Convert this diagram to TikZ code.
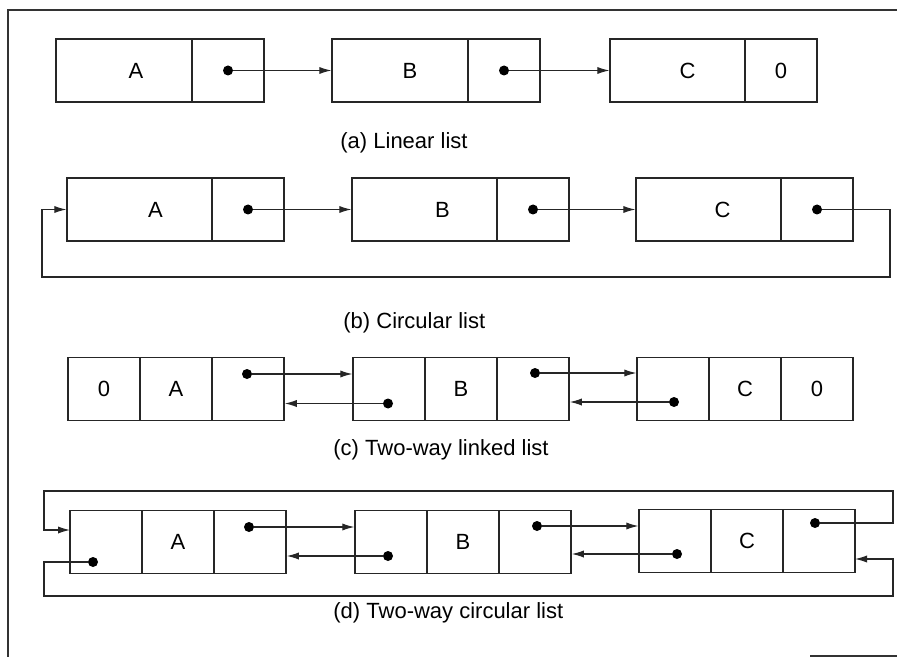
\documentclass[tikz,border=0pt]{standalone}
\usepackage{fontspec}
\setmainfont{Liberation Sans}
\usetikzlibrary{arrows.meta}

\tikzset{
  cell/.style={draw=black!85, line width=0.7pt, minimum height=31.5pt, inner sep=0pt,
               font=\fontsize{11}{13}\selectfont},
  wide/.style={cell, minimum width=#1},
  sq/.style={cell, minimum width=36pt},
  ptrbox/.style={sq, line width=0.85pt},
  txt/.style={font=\fontsize{11}{13}\selectfont, inner sep=0pt},
  caption/.style={txt, anchor=west},
  dot/.style={circle, fill=black, inner sep=0pt, minimum size=5pt},
  ptr/.style={draw=black!85, line width=0.55pt, -{Latex[length=6pt,width=3.6pt]}},
  frame/.style={draw=black!80, line width=0.6pt}
}

\begin{document}
\begin{tikzpicture}[x=0.5pt, y=-0.5pt]
\useasboundingbox (0,0) rectangle (897,657);

% outer frame
\draw[frame] (897,10) -- (8,10) -- (8,657);
\draw[frame] (810,656) -- (897,656);

% ---------- (a) linear list ----------
\node[wide=68pt, label={[txt,xshift=6pt]center:A}] (aA) at (124,70.5) {};
\node[ptrbox] (aAp) at (228,70.5) {};
\node[wide=68pt, label={[txt,xshift=5pt]center:B}] (aB) at (400,70.5) {};
\node[ptrbox] (aBp) at (504,70.5) {};
\node[wide=67.5pt, label={[txt,xshift=5pt]center:C}] (aC) at (677.5,70.5) {};
\node[sq] (aC0) at (781,70.5) {0};
\node[dot] (aAd) at (aAp.center) {};
\node[dot] (aBd) at (aBp.center) {};
\draw[ptr] (aAd) -- (aAd -| aB.west);
\draw[ptr] (aBd) -- (aBd -| aC.west);
\node[caption] (capa) at (340,143) {(a) Linear list};

% ---------- (b) circular list ----------
\node[wide=72.5pt, label={[txt,xshift=8pt]center:A}] (bA) at (139.5,209.5) {};
\node[ptrbox] (bAp) at (248,209.5) {};
\node[wide=72.5pt, label={[txt,xshift=9pt]center:B}] (bB) at (424.5,209.5) {};
\node[ptrbox] (bBp) at (533,209.5) {};
\node[wide=72.5pt, label={[txt,xshift=7pt]center:C}] (bC) at (708.5,209.5) {};
\node[ptrbox] (bCp) at (817,209.5) {};
\node[dot] (bAd) at (bAp.center) {};
\node[dot] (bBd) at (bBp.center) {};
\node[dot] (bCd) at (bCp.center) {};
\draw[ptr] (bAd) -- (bAd -| bB.west);
\draw[ptr] (bBd) -- (bBd -| bC.west);
\coordinate (bR) at (890,277);
\coordinate (bL) at (42,277);
\draw[ptr] (bCd) -- (bCd -| bR) -- (bR) -- (bL) -- (bL |- bA.west) -- (bA.west);
\node[caption] (capb) at (343,323) {(b) Circular list};

% ---------- (c) two-way linked list ----------
\node[sq] (cA1) at (104,389) {0};
\node[sq] (cA2) at (176,389) {A};
\node[ptrbox] (cA3) at (248,389) {};
\node[sq] (cB1) at (389,389) {};
\node[sq] (cB2) at (461,389) {B};
\node[ptrbox] (cB3) at (533,389) {};
\node[sq] (cC1) at (673,389) {};
\node[sq] (cC2) at (745,389) {C};
\node[sq] (cC3) at (817,389) {0};
\node[dot] (cAn) at (247,374) {};
\node[dot] (cBp) at (388,403.5) {};
\node[dot] (cBn) at (535,373) {};
\node[dot] (cCp) at (674,402) {};
\draw[ptr] (cAn) -- (cAn -| cB1.west);
\draw[ptr] (cBp) -- (cBp -| cA3.east);
\draw[ptr] (cBn) -- (cBn -| cC1.west);
\draw[ptr] (cCp) -- (cCp -| cB3.east);
\node[caption] (capc) at (333,450) {(c) Two-way linked list};

% ---------- (d) two-way circular list ----------
\node[sq] (dA1) at (106,542) {};
\node[sq] (dA2) at (178,542) {A};
\node[ptrbox] (dA3) at (250,542) {};
\node[sq] (dB1) at (391,542) {};
\node[sq] (dB2) at (463,542) {B};
\node[ptrbox] (dB3) at (535,542) {};
\node[sq] (dC1) at (675,541) {};
\node[sq] (dC2) at (747,541) {C};
\node[sq] (dC3) at (819,541) {};
\node[dot] (dAp) at (93,562) {};
\node[dot] (dAn) at (249,527) {};
\node[dot] (dBp) at (388,556) {};
\node[dot] (dBn) at (537,526) {};
\node[dot] (dCp) at (677,554) {};
\node[dot] (dCn) at (815,523) {};
\draw[ptr] (dAn) -- (dAn -| dB1.west);
\draw[ptr] (dBp) -- (dBp -| dA3.east);
\draw[ptr] (dBn) -- (dBn -| dC1.west);
\draw[ptr] (dCp) -- (dCp -| dB3.east);
% wrap-around links
\coordinate (dTR) at (893,491);
\coordinate (dTL) at (44,491);
\coordinate (dBL) at (44,596);
\coordinate (dBR) at (893,596);
\coordinate (dAin) at (70,530);
\coordinate (dCin) at (855,559);
\draw[ptr] (dCn) -- (dCn -| dTR) -- (dTR) -- (dTL) -- (dTL |- dAin) -- (dAin);
\draw[ptr] (dAp) -- (dAp -| dBL) -- (dBL) -- (dBR) -- (dBR |- dCin) -- (dCin);
\node[caption] (capd) at (333,613) {(d) Two-way circular list};

\end{tikzpicture}
\end{document}
